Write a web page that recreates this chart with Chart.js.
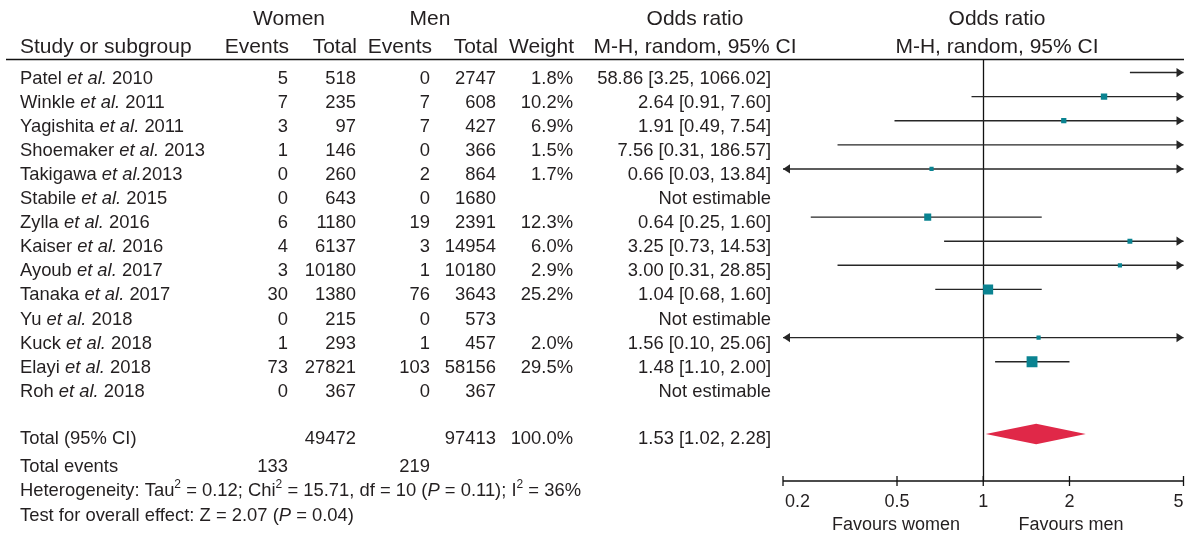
<!DOCTYPE html>
<html>
<head>
<meta charset="utf-8">
<title>Forest plot – odds ratio, women vs men</title>
<script src="https://cdn.jsdelivr.net/npm/chart.js@4.4.1/dist/chart.umd.min.js"></script>
<style>
  html, body { margin: 0; padding: 0; background: #ffffff; }
  #wrap { position: relative; width: 1192px; height: 535px; }
  canvas { display: block; }
</style>
</head>
<body>
<div id="wrap"><canvas id="forest" width="1192" height="535"></canvas></div>
<script>
// ---- Study data ----
const studies = [
  'Patel et al. 2010', 'Winkle et al. 2011', 'Yagishita et al. 2011', 'Shoemaker et al. 2013',
  'Takigawa et al.2013', 'Stabile et al. 2015', 'Zylla et al. 2016', 'Kaiser et al. 2016',
  'Ayoub et al. 2017', 'Tanaka et al. 2017', 'Yu et al. 2018', 'Kuck et al. 2018',
  'Elayi et al. 2018', 'Roh et al. 2018'
];
const womenEvents = [5, 7, 3, 1, 0, 0, 6, 4, 3, 30, 0, 1, 73, 0];
const womenTotal  = [518, 235, 97, 146, 260, 643, 1180, 6137, 10180, 1380, 215, 293, 27821, 367];
const menEvents   = [0, 7, 7, 0, 2, 0, 19, 3, 1, 76, 0, 1, 103, 0];
const menTotal    = [2747, 608, 427, 366, 864, 1680, 2391, 14954, 10180, 3643, 573, 457, 58156, 367];
const weights     = [1.8, 10.2, 6.9, 1.5, 1.7, null, 12.3, 6.0, 2.9, 25.2, null, 2.0, 29.5, null];
const oddsRatio   = [58.86, 2.64, 1.91, 7.56, 0.66, null, 0.64, 3.25, 3.00, 1.04, null, 1.56, 1.48, null];
const ciLower     = [3.25, 0.91, 0.49, 0.31, 0.03, null, 0.25, 0.73, 0.31, 0.68, null, 0.10, 1.10, null];
const ciUpper     = [1066.02, 7.60, 7.54, 186.57, 13.84, null, 1.60, 14.53, 28.85, 1.60, null, 25.06, 2.00, null];

// ---- Pooled result ----
const pooledOR = 1.53;
const pooledLower = 1.02;
const pooledUpper = 2.28;
const pooledWomenTotal = 49472;
const pooledMenTotal = 97413;
const pooledWomenEvents = 133;
const pooledMenEvents = 219;
const pooledWeight = 100.0;

// ---- Axis ticks ----
const xTicks = [0.2, 0.5, 1, 2, 5];
const xTickLabels = ['0.2', '0.5', '1', '2', '5'];

const TOTAL_ROW = 15;
const FONT = '"Liberation Sans", Arial, Helvetica, sans-serif';
const INK = '#231f20';
const LINE = '#262626';
const SQUARE = '#0a8391';
const DIAMOND = '#e02848';

// square side in px from study weight
function squareSide(w) { return Math.max(4.2, 2 * Math.sqrt(w)); }

const squarePoints = [];
const squareRadii = [];
oddsRatio.forEach((v, i) => {
  if (v === null) return;
  squarePoints.push({ x: v, y: i });
  squareRadii.push(squareSide(weights[i]) / (2 * Math.SQRT1_2));
});

// draw text made of runs (plain / italic / superscript)
function drawRuns(ctx, x, y, runs, size, align) {
  const fontFor = r => (r.italic ? 'italic ' : '') + (r.sup ? Math.round(size * 0.66) : size) + 'px ' + FONT;
  let total = 0;
  runs.forEach(r => { ctx.font = fontFor(r); total += ctx.measureText(r.t).width; });
  let cx = align === 'right' ? x - total : align === 'center' ? x - total / 2 : x;
  ctx.textAlign = 'left';
  runs.forEach(r => {
    ctx.font = fontFor(r);
    ctx.fillText(r.t, cx, r.sup ? y - size * 0.42 : y);
    cx += ctx.measureText(r.t).width;
  });
}

function studyRuns(label) {
  const k = label.indexOf('et al.');
  return [
    { t: label.slice(0, k) },
    { t: 'et al.', italic: true },
    { t: label.slice(k + 6) }
  ];
}

function arrowHead(ctx, x, y, dir) {
  ctx.beginPath();
  ctx.moveTo(x, y);
  ctx.lineTo(x - dir * 7, y - 4.6);
  ctx.lineTo(x - dir * 7, y + 4.6);
  ctx.closePath();
  ctx.fill();
}

const forestPlugin = {
  id: 'forest',
  beforeDatasetsDraw(chart) {
    const { ctx, chartArea, scales } = chart;
    const xs = scales.x, ys = scales.y;
    ctx.save();
    // line of no effect
    const x1 = Math.round(xs.getPixelForValue(1)) + 0.5;
    ctx.strokeStyle = '#111';
    ctx.lineWidth = 1.3;
    ctx.beginPath();
    ctx.moveTo(x1, chartArea.top);
    ctx.lineTo(x1, chartArea.bottom);
    ctx.stroke();

    // confidence intervals
    ctx.strokeStyle = LINE;
    ctx.fillStyle = LINE;
    ctx.lineWidth = 1.4;
    oddsRatio.forEach((v, i) => {
      if (v === null) return;
      const y = ys.getPixelForValue(i);
      const lo = Math.max(ciLower[i], xs.min);
      const hi = Math.min(ciUpper[i], xs.max);
      const xl = xs.getPixelForValue(lo);
      const xr = xs.getPixelForValue(hi);
      ctx.beginPath();
      ctx.moveTo(xl, y);
      ctx.lineTo(xr, y);
      ctx.stroke();
      if (ciLower[i] < xs.min) arrowHead(ctx, xl, y, -1);
      if (ciUpper[i] > xs.max) arrowHead(ctx, xr, y, 1);
    });

    // pooled diamond
    const yT = ys.getPixelForValue(TOTAL_ROW);
    const half = Math.abs(ys.getPixelForValue(TOTAL_ROW + 0.43) - yT);
    ctx.fillStyle = DIAMOND;
    ctx.beginPath();
    ctx.moveTo(xs.getPixelForValue(pooledLower), yT);
    ctx.lineTo(xs.getPixelForValue(pooledOR), yT - half);
    ctx.lineTo(xs.getPixelForValue(pooledUpper), yT);
    ctx.lineTo(xs.getPixelForValue(pooledOR), yT + half);
    ctx.closePath();
    ctx.fill();
    ctx.restore();
  },
  afterDraw(chart) {
    const { ctx, chartArea, scales } = chart;
    const xs = scales.x, ys = scales.y;
    ctx.save();
    ctx.fillStyle = INK;
    ctx.strokeStyle = '#111';

    // header rule
    ctx.lineWidth = 1.4;
    ctx.beginPath();
    ctx.moveTo(6, chartArea.top - 0.5);
    ctx.lineTo(1184, chartArea.top - 0.5);
    ctx.stroke();

    // bottom axis with ticks
    const yA = chartArea.bottom;
    ctx.lineWidth = 1.3;
    ctx.beginPath();
    ctx.moveTo(chartArea.left, yA);
    ctx.lineTo(chartArea.right, yA);
    xTicks.forEach(t => {
      const px = xs.getPixelForValue(t);
      ctx.moveTo(px, yA - 5);
      ctx.lineTo(px, yA + 5);
    });
    ctx.stroke();
    ctx.font = '18px ' + FONT;
    ctx.textBaseline = 'alphabetic';
    xTicks.forEach((t, k) => {
      const px = xs.getPixelForValue(t);
      ctx.textAlign = k === 0 ? 'left' : (k === xTicks.length - 1 ? 'right' : 'center');
      ctx.fillText(xTickLabels[k], k === 0 ? px + 2 : px, yA + 26);
    });
    ctx.textAlign = 'center';
    ctx.fillText('Favours women', 896, yA + 49);
    ctx.fillText('Favours men', 1071, yA + 49);

    // column headers
    const H = 21;
    ctx.font = H + 'px ' + FONT;
    ctx.textAlign = 'center';
    ctx.fillText('Women', 289, 25);
    ctx.fillText('Men', 430, 25);
    ctx.fillText('Odds ratio', 695, 25);
    ctx.fillText('Odds ratio', 997, 25);
    ctx.textAlign = 'left';
    ctx.fillText('Study or subgroup', 20, 53);
    ctx.textAlign = 'right';
    ctx.fillText('Events', 289, 53);
    ctx.fillText('Total', 357, 53);
    ctx.fillText('Events', 432, 53);
    ctx.fillText('Total', 498, 53);
    ctx.fillText('Weight', 574, 53);
    ctx.textAlign = 'center';
    ctx.fillText('M-H, random, 95% CI', 695, 53);
    ctx.fillText('M-H, random, 95% CI', 997, 53);

    // study rows
    const S = 18.4;
    const cols = { we: 288, wt: 356, me: 430, mt: 496, w: 573, or: 771 };
    studies.forEach((name, i) => {
      const y = ys.getPixelForValue(i) + 11;
      drawRuns(ctx, 20, y, studyRuns(name), S, 'left');
      ctx.font = S + 'px ' + FONT;
      ctx.textAlign = 'right';
      ctx.fillText(String(womenEvents[i]), cols.we, y);
      ctx.fillText(String(womenTotal[i]), cols.wt, y);
      ctx.fillText(String(menEvents[i]), cols.me, y);
      ctx.fillText(String(menTotal[i]), cols.mt, y);
      if (weights[i] !== null) ctx.fillText(weights[i].toFixed(1) + '%', cols.w, y);
      const txt = oddsRatio[i] === null ? 'Not estimable'
        : oddsRatio[i].toFixed(2) + ' [' + ciLower[i].toFixed(2) + ', ' + ciUpper[i].toFixed(2) + ']';
      ctx.fillText(txt, cols.or, y);
    });

    // totals
    const yT = ys.getPixelForValue(TOTAL_ROW) + 9.5;
    ctx.font = S + 'px ' + FONT;
    ctx.textAlign = 'left';
    ctx.fillText('Total (95% CI)', 20, yT);
    ctx.textAlign = 'right';
    ctx.fillText(String(pooledWomenTotal), cols.wt, yT);
    ctx.fillText(String(pooledMenTotal), cols.mt, yT);
    ctx.fillText(pooledWeight.toFixed(1) + '%', cols.w, yT);
    ctx.fillText(pooledOR.toFixed(2) + ' [' + pooledLower.toFixed(2) + ', ' + pooledUpper.toFixed(2) + ']', cols.or, yT);

    const yE = yT + 28;
    ctx.textAlign = 'left';
    ctx.fillText('Total events', 20, yE);
    ctx.textAlign = 'right';
    ctx.fillText(String(pooledWomenEvents), cols.we, yE);
    ctx.fillText(String(pooledMenEvents), cols.me, yE);

    drawRuns(ctx, 20, yE + 24, [
      { t: 'Heterogeneity: Tau' }, { t: '2', sup: true }, { t: ' = 0.12; Chi' }, { t: '2', sup: true },
      { t: ' = 15.71, df = 10 (' }, { t: 'P', italic: true }, { t: ' = 0.11); I' }, { t: '2', sup: true },
      { t: ' = 36%' }
    ], S, 'left');
    drawRuns(ctx, 20, yE + 49, [
      { t: 'Test for overall effect: Z = 2.07 (' }, { t: 'P', italic: true }, { t: ' = 0.04)' }
    ], S, 'left');
    ctx.restore();
  }
};

new Chart(document.getElementById('forest'), {
  type: 'scatter',
  data: {
    datasets: [{
      label: 'Odds ratio',
      data: squarePoints,
      pointStyle: 'rect',
      pointRadius: squareRadii,
      pointHoverRadius: squareRadii,
      backgroundColor: SQUARE,
      borderWidth: 0
    }]
  },
  options: {
    responsive: false,
    animation: false,
    events: [],
    layout: { padding: { left: 783, right: 8.5, top: 60, bottom: 54 } },
    scales: {
      x: { type: 'logarithmic', min: 0.2, max: 5, display: false },
      y: { type: 'linear', min: -0.52, max: 16.95, reverse: true, display: false }
    },
    plugins: { legend: { display: false }, tooltip: { enabled: false } }
  },
  plugins: [forestPlugin]
});
</script>
</body>
</html>
